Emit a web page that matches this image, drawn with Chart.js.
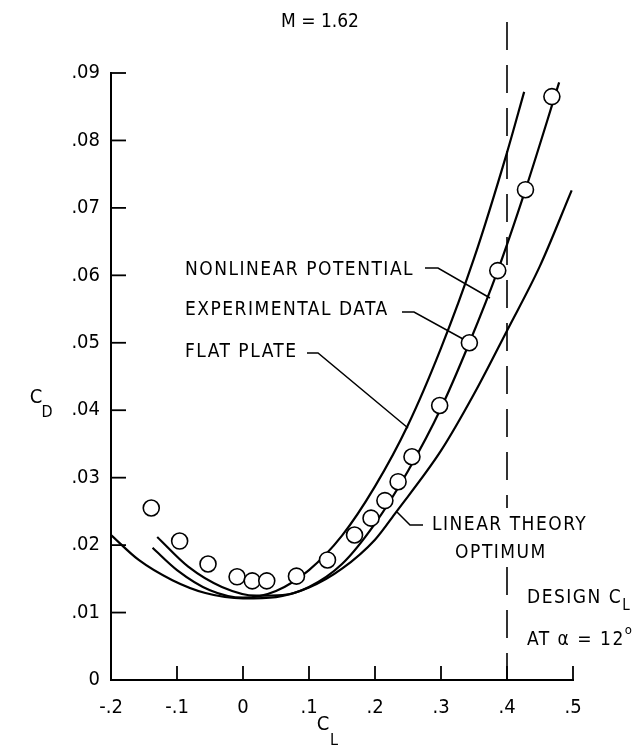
<!DOCTYPE html>
<html lang="en">
<head>
<meta charset="UTF-8">
<title>CD vs CL, M = 1.62</title>
<style>
    html, body { margin: 0; padding: 0; background: #fff; }
    .box { position: relative; width: 643px; height: 755px; }
</style>
</head>
<body>
<div class="box"><canvas id="myChart"></canvas></div>
<script src="https://cdn.jsdelivr.net/npm/chart.js@4.4.0/dist/chart.umd.min.js"></script>
<script>
// tick labels
const xTickLabels = ['-.2', '-.1', '0', '.1', '.2', '.3', '.4', '.5'];
const yTickLabels = ['0', '.01', '.02', '.03', '.04', '.05', '.06', '.07', '.08', '.09'];

// experimental data (circles)
const expCL = [-0.139, -0.096, -0.053, -0.009, 0.014, 0.036, 0.081, 0.128, 0.169, 0.194, 0.215, 0.235, 0.256, 0.298, 0.343, 0.386, 0.428, 0.468];
const expCD = [0.0255, 0.0206, 0.0172, 0.0153, 0.0147, 0.0147, 0.0154, 0.0178, 0.0215, 0.0240, 0.0266, 0.0294, 0.0331, 0.0407, 0.0500, 0.0607, 0.0727, 0.0865];

// nonlinear potential
const nlpCL = [-0.130, -0.083, -0.032, 0.02, 0.06, 0.10, 0.15, 0.20, 0.25, 0.30, 0.343, 0.386, 0.428, 0.479];
const nlpCD = [0.0212, 0.0168, 0.0138, 0.0125, 0.0126, 0.0138, 0.0172, 0.0232, 0.0310, 0.0403, 0.0500, 0.0607, 0.0727, 0.0886];

// flat plate
const fpCL = [-0.137, -0.10, -0.05, 0.0, 0.05, 0.10, 0.15, 0.20, 0.25, 0.30, 0.35, 0.40, 0.426];
const fpCD = [0.0196, 0.0163, 0.0133, 0.0122, 0.0132, 0.0163, 0.0214, 0.0287, 0.0378, 0.0492, 0.0625, 0.0782, 0.0872];

// linear theory optimum
const ltCL = [-0.2, -0.158, -0.107, -0.057, 0.0, 0.05, 0.10, 0.15, 0.20, 0.232, 0.30, 0.35, 0.40, 0.45, 0.498];
const ltCD = [0.0215, 0.0178, 0.0148, 0.0129, 0.0121, 0.0123, 0.0137, 0.0165, 0.0208, 0.0249, 0.0340, 0.0424, 0.0518, 0.0614, 0.0726];

const designCL = 0.4;

const FONT = '"DejaVu Sans Condensed", "Liberation Sans Narrow", "DejaVu Sans", sans-serif';

function pts(xs, ys) {
    return xs.map((x, i) => ({ x: x, y: ys[i] }));
}

function curve(xs, ys) {
    return {
        data: pts(xs, ys),
        showLine: true,
        borderColor: '#000',
        borderWidth: 2.2,
        pointRadius: 0,
        cubicInterpolationMode: 'monotone',
        fill: false
    };
}

// returns the width of the drawn text
function drawText(ctx, s, x, y, size, align) {
    ctx.font = size + 'px ' + FONT;
    ctx.textAlign = align || 'left';
    ctx.textBaseline = 'middle';
    ctx.fillText(s, x, y);
    return ctx.measureText(s).width;
}

function line(ctx, p) {
    ctx.beginPath();
    ctx.moveTo(p[0][0], p[0][1]);
    for (let i = 1; i < p.length; i++) ctx.lineTo(p[i][0], p[i][1]);
    ctx.stroke();
}

const extras = {
    id: 'extras',
    afterDraw(chart) {
        const ctx = chart.ctx;
        const xs = chart.scales.x, ys = chart.scales.y;
        const area = chart.chartArea;
        ctx.save();
        ctx.fillStyle = '#000';
        ctx.strokeStyle = '#000';
        ctx.lineWidth = 1.8;

        // inward ticks
        xs.ticks.forEach(t => {
            const px = xs.getPixelForValue(t.value);
            line(ctx, [[px, area.bottom], [px, area.bottom - 14]]);
        });
        ys.ticks.forEach(t => {
            const py = ys.getPixelForValue(t.value);
            line(ctx, [[area.left, py], [area.left + 15, py]]);
        });

        // design CL dashed line
        const dx = xs.getPixelForValue(designCL);
        ctx.setLineDash([28, 15]);
        ctx.lineWidth = 1.6;
        line(ctx, [[dx, 22], [dx, 508]]);
        line(ctx, [[dx, 567], [dx, area.bottom]]);
        ctx.setLineDash([]);

        // title and axis titles
        drawText(ctx, 'M = 1.62', 320, 22, 19, 'center');
        drawText(ctx, 'C', 36, 398, 20, 'center');
        drawText(ctx, 'D', 47, 413, 16, 'center');
        drawText(ctx, 'C', 323, 725, 20, 'center');
        drawText(ctx, 'L', 334, 741, 16, 'center');

        // annotations
        ctx.letterSpacing = '1.5px';
        drawText(ctx, 'NONLINEAR POTENTIAL', 185, 270, 19);
        drawText(ctx, 'EXPERIMENTAL DATA', 185, 310, 19);
        drawText(ctx, 'FLAT PLATE', 185, 352, 19);
        drawText(ctx, 'LINEAR THEORY', 432, 525, 19);
        drawText(ctx, 'OPTIMUM', 501, 553, 19, 'center');
        let w = drawText(ctx, 'DESIGN C', 527, 598, 19);
        drawText(ctx, 'L', 527 + w, 606, 15);
        w = drawText(ctx, 'AT \u03b1 = 12', 527, 640, 19);
        drawText(ctx, 'o', 527 + w, 631, 13);
        ctx.letterSpacing = '0px';

        ctx.lineWidth = 1.5;
        line(ctx, [[425, 268], [438, 268], [490, 298]]);
        line(ctx, [[402, 312], [414, 312], [463, 339]]);
        line(ctx, [[307, 353], [318, 353], [408, 428]]);
        line(ctx, [[423, 525], [410, 525], [397, 512]]);
        ctx.restore();
    }
};

const myChart = document.getElementById('myChart');
new Chart(myChart, {
    type: 'scatter',
    data: {
        datasets: [
            {
                data: pts(expCL, expCD),
                pointRadius: 8,
                pointHoverRadius: 8,
                pointBackgroundColor: '#fff',
                pointBorderColor: '#000',
                pointBorderWidth: 1.6,
                showLine: false
            },
            curve(nlpCL, nlpCD),
            curve(fpCL, fpCD),
            curve(ltCL, ltCD)
        ]
    },
    options: {
        responsive: true,
        maintainAspectRatio: false,
        animation: false,
        devicePixelRatio: 1,
        layout: { padding: { top: 73, right: 70, left: 0, bottom: 0 } },
        plugins: {
            legend: { display: false },
            tooltip: { enabled: false }
        },
        scales: {
            x: {
                type: 'linear',
                min: -0.2,
                max: 0.5,
                afterFit: s => { s.height = 75; },
                grid: { display: false },
                border: { display: true, color: '#000', width: 2 },
                ticks: {
                    stepSize: 0.1,
                    padding: 8,
                    color: '#000',
                    font: { family: FONT, size: 20 },
                    callback: (v, i) => xTickLabels[i]
                }
            },
            y: {
                type: 'linear',
                min: 0,
                max: 0.09,
                afterFit: s => { s.width = 111; },
                grid: { display: false },
                border: { display: true, color: '#000', width: 2 },
                ticks: {
                    stepSize: 0.01,
                    padding: 3,
                    color: '#000',
                    font: { family: FONT, size: 20 },
                    callback: (v, i) => yTickLabels[i]
                }
            }
        }
    },
    plugins: [extras]
});
</script>
</body>
</html>
